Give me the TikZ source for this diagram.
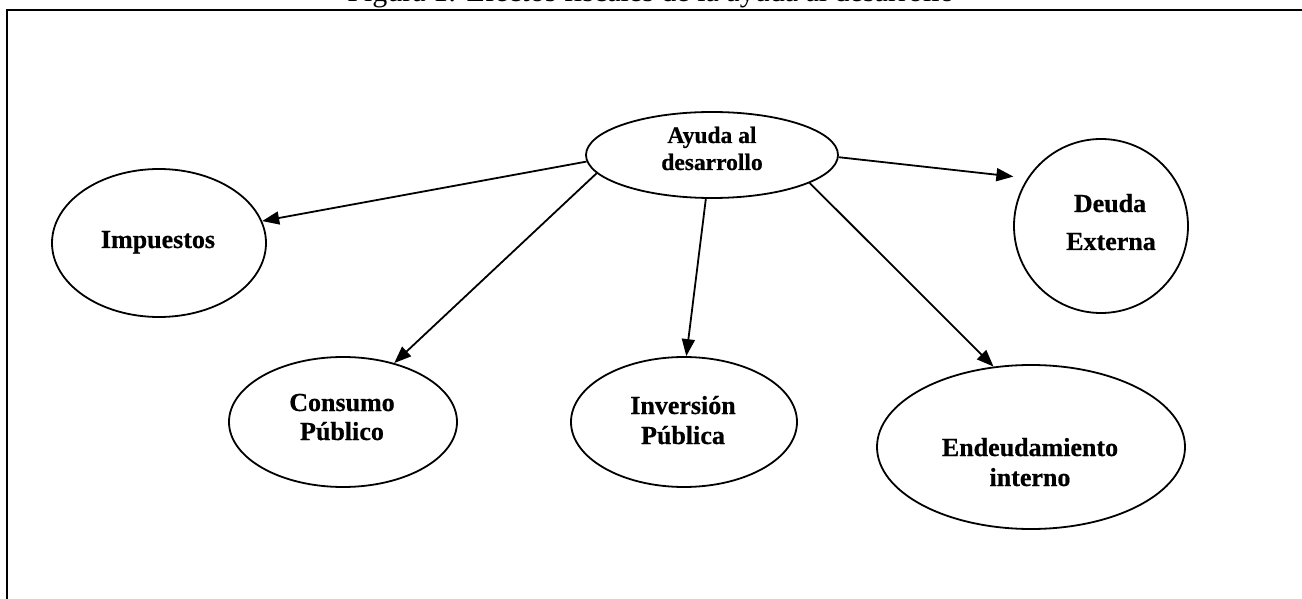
\documentclass[tikz,border=0pt]{standalone}
\usepackage{fontspec}
\setmainfont{Liberation Serif}
\newfontface\heavyface{Liberation Serif Bold}[FakeBold=0.6]
\usetikzlibrary{arrows.meta,shapes.geometric}
\tikzset{
  ell/.style={draw, ellipse, line width=1.8pt, inner sep=0pt},
  lbl/.style={anchor=base, inner sep=0pt, font=\fontsize{26}{30}\selectfont\heavyface},
  lbls/.style={anchor=base, inner sep=0pt, font=\fontsize{23.5}{27}\selectfont\heavyface},
  conn/.style={line width=1.8pt, -{Triangle[length=17pt, width=13pt]}}
}
\begin{document}
\begin{tikzpicture}[x=1pt, y=1pt]
\useasboundingbox (0,0) rectangle (1302,598);
% title (cut at top) and frame
\node[anchor=base, inner sep=0pt, font=\fontsize{30}{34}\selectfont] (title) at (651,596.5) {Figura 1: Efectos fiscales de la ayuda al desarrollo};
\draw[line width=2.8pt] (7,-2) -- (7,588) -- (1305,588);
% ellipses
\node[ell, minimum width=252pt, minimum height=86pt] (ay) at (712,443) {};
\node[ell, minimum width=214pt, minimum height=148pt] (imp) at (159,355) {};
\node[ell, minimum width=174pt, minimum height=174pt] (de) at (1101,372) {};
\node[ell, minimum width=228pt, minimum height=130pt] (con) at (343,176) {};
\node[ell, minimum width=226pt, minimum height=130pt] (inv) at (684,176) {};
\node[ell, minimum width=308pt, minimum height=164pt] (endd) at (1031,151) {};
% texts
\node[lbls] (ay1) at (712,455) {Ayuda al};
\node[lbls] (ay2) at (712,428) {desarrollo};
\node[lbl] (imp1) at (158,350) {Impuestos};
\node[lbl] (de1) at (1110,386) {Deuda};
\node[lbl] (de2) at (1111,348) {Externa};
\node[lbl] (con1) at (342,187) {Consumo};
\node[lbl] (con2) at (342,158) {Público};
\node[lbl] (inv1) at (683,184) {Inversión};
\node[lbl] (inv2) at (683,154) {Pública};
\node[lbl] (end1) at (1030,142) {Endeudamiento};
\node[lbl] (end2) at (1030,112) {interno};
% connectors
\draw[conn] (ay.183) -- (imp.12);
\draw[conn] (ay.189) -- (con.49);
\draw[conn] (ay.262) -- (inv.88);
\draw[conn] (ay.344) -- (endd.115.7);
\draw[conn, shorten >=14pt] (ay.359) -- (de.147);
\end{tikzpicture}
\end{document}
